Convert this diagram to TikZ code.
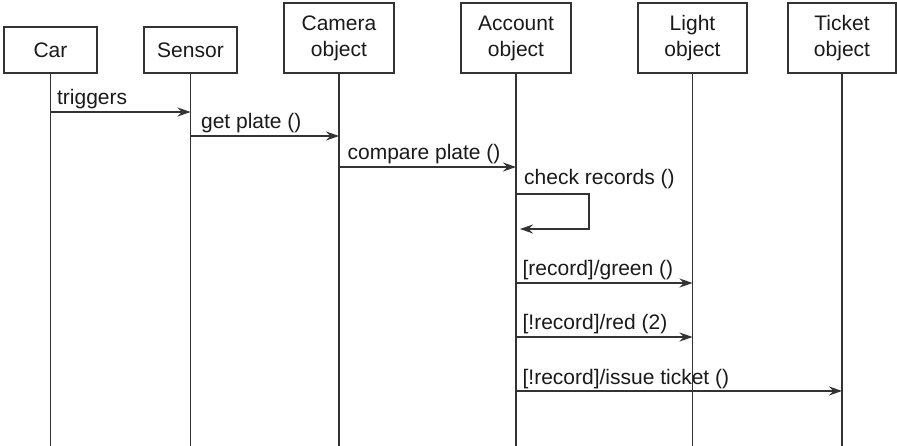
\documentclass[tikz,border=0pt]{standalone}
\usepackage{fontspec}
\setmainfont{Liberation Sans}
\usetikzlibrary{arrows.meta}
\definecolor{ink}{HTML}{333333}
\definecolor{txt}{HTML}{1A1A1A}
\begin{document}
\begin{tikzpicture}[x=1pt,y=-1pt,
  obj/.style={draw=ink, line width=1.2pt, fill=white, align=center, inner sep=0pt, text=txt,
    font=\fontsize{21}{26}\selectfont},
  life/.style={draw=ink, line width=1.2pt},
  msg/.style={draw=ink, line width=1.2pt, -{Stealth[length=13pt,width=9pt]}},
  lbl/.style={anchor=base west, text=txt, inner sep=0pt, font=\fontsize{21}{26}\selectfont}]
\useasboundingbox (0,0) rectangle (897,446);
\fill[white] (0,0) rectangle (897,446);
\coordinate (bot) at (0,446);
\node[obj, minimum width=93, minimum height=46] (car) at (50.5,50) {Car};
\node[obj, minimum width=93, minimum height=46] (sensor) at (190.5,50) {Sensor};
\node[obj, minimum width=110, minimum height=70] (camera) at (339,38) {Camera\\object};
\node[obj, minimum width=110, minimum height=70] (acc) at (516,38) {Account\\object};
\node[obj, minimum width=109, minimum height=70] (light) at (692.5,38) {Light\\object};
\node[obj, minimum width=108, minimum height=70] (ticket) at (842,38) {Ticket\\object};
\foreach \n in {car,sensor,camera,acc,light,ticket}
  \draw[life] (\n.south) -- (\n.south |- bot);
% messages
\draw[msg] (car.south |- 0,112) -- (sensor.south |- 0,112)
  node[lbl, pos=0, xshift=6pt, yshift=7pt] {triggers};
\draw[msg] (sensor.south |- 0,136) -- (camera.south |- 0,136)
  node[lbl, pos=0, xshift=10pt, yshift=7pt] {get plate ()};
\draw[msg] (camera.south |- 0,167) -- (acc.south |- 0,167)
  node[lbl, pos=0, xshift=8pt, yshift=7pt] {compare plate ()};
\coordinate (loopR) at (589,194);
\coordinate (loopE) at (520,229);
\node[lbl] at (524,185) {check records ()};
\draw[msg] (acc.south |- loopR) -- (loopR) |- (loopE);
\draw[msg] (acc.south |- 0,283) -- (light.south |- 0,283)
  node[lbl, pos=0, xshift=6pt, yshift=7pt] {[record]/green ()};
\draw[msg] (acc.south |- 0,337) -- (light.south |- 0,337)
  node[lbl, pos=0, xshift=6pt, yshift=7pt] {[!record]/red (2)};
\draw[msg] (acc.south |- 0,391) -- (ticket.south |- 0,391)
  node[lbl, pos=0, xshift=6pt, yshift=7pt] {[!record]/issue ticket ()};
\end{tikzpicture}
\end{document}
